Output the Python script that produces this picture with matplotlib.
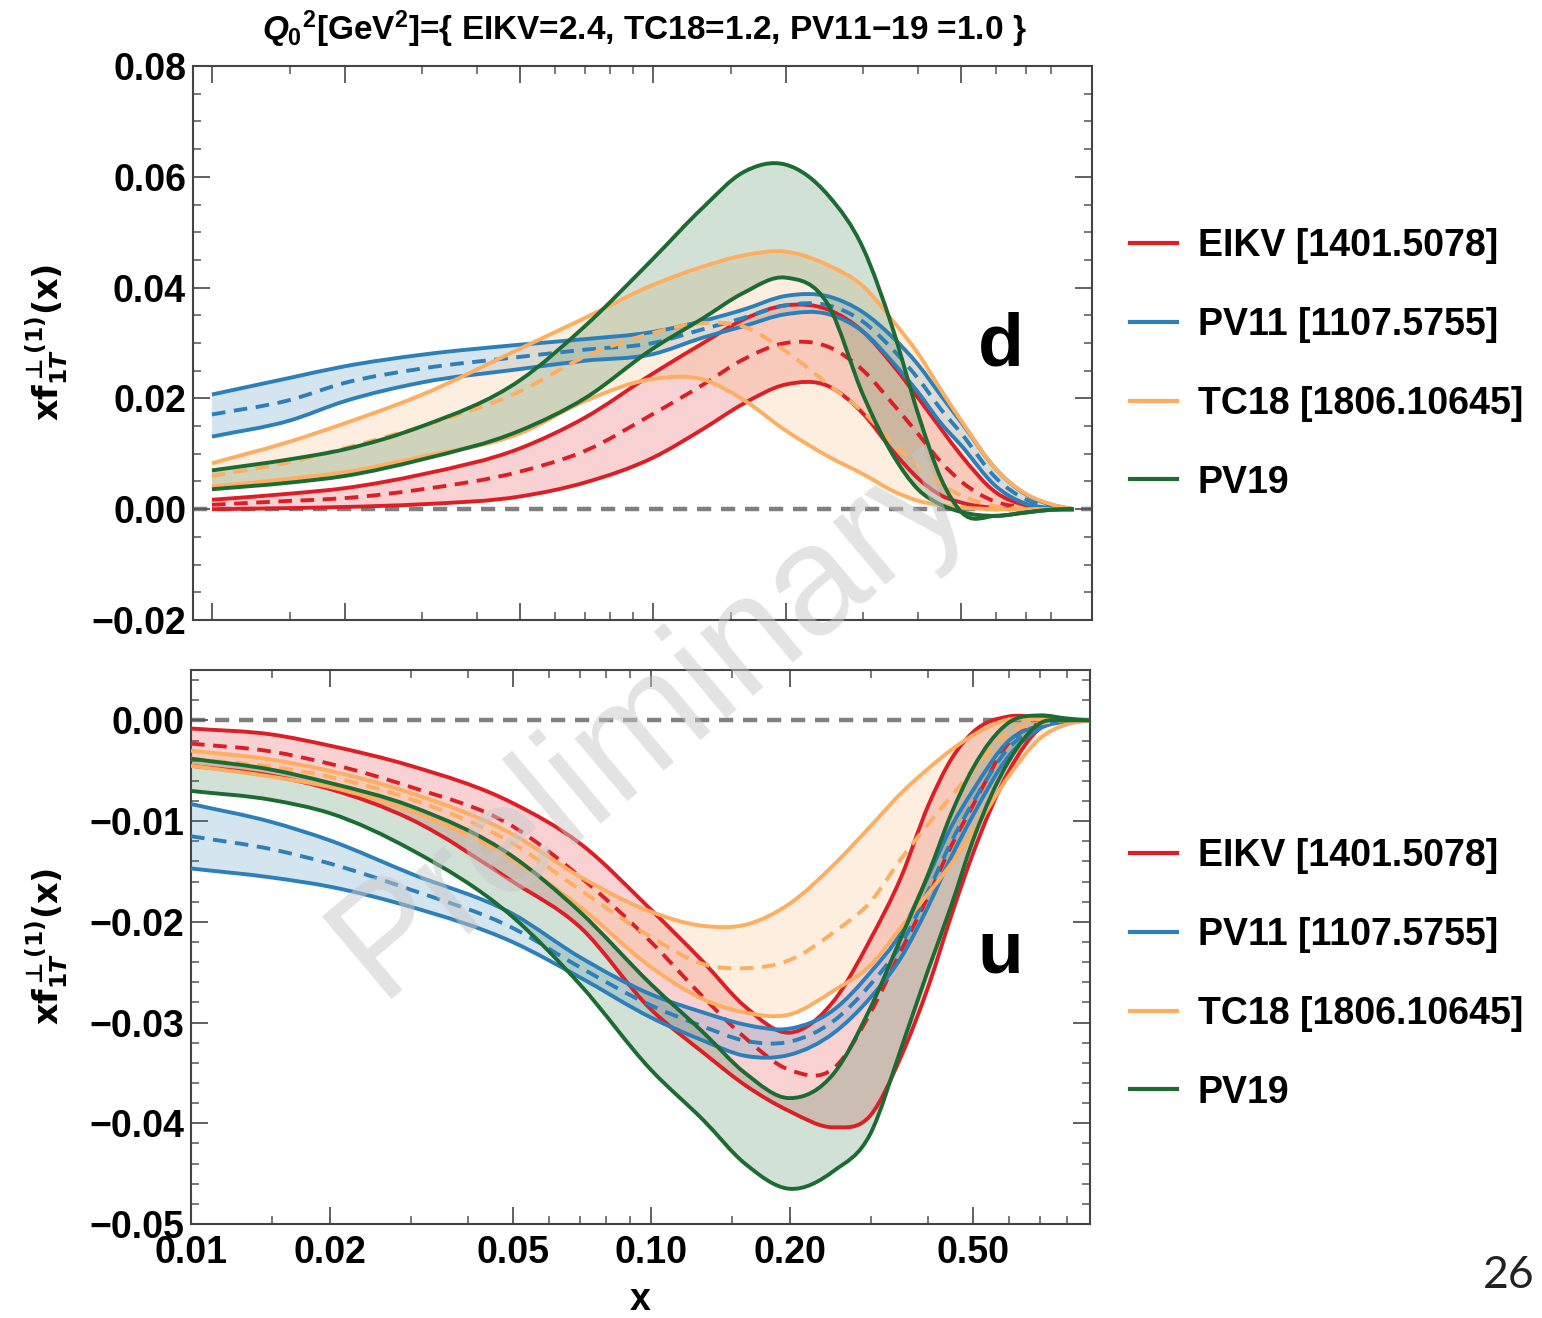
import numpy as np
import matplotlib
matplotlib.use('Agg')
import matplotlib.pyplot as plt
from matplotlib.lines import Line2D
from matplotlib.path import Path
from matplotlib.patches import PathPatch
from matplotlib.ticker import FixedLocator, FuncFormatter

plt.rcParams['font.family'] = ['Liberation Sans', 'DejaVu Sans']
plt.rcParams['font.weight'] = 'bold'
plt.rcParams['mathtext.fontset'] = 'custom'
plt.rcParams['mathtext.rm'] = 'Liberation Sans:bold'
plt.rcParams['mathtext.it'] = 'Liberation Sans:italic:bold'
plt.rcParams['mathtext.bf'] = 'Liberation Sans:bold'

# x grid shared by all curves
x = [0.01, 0.015, 0.02, 0.03, 0.05, 0.07, 0.1, 0.13, 0.16, 0.2,
     0.25, 0.3, 0.35, 0.4, 0.45, 0.5, 0.6, 0.7, 0.8, 0.9]

# ---- d quark (top panel) ----
eikv_d_hi = [0.0017, 0.0028, 0.0038, 0.0063, 0.0110, 0.0165, 0.0245, 0.0300, 0.0342, 0.0368,
             0.0360, 0.0320, 0.0260, 0.0200, 0.0145, 0.0097, 0.0030, 0.0007, 0.0001, 0.0]
eikv_d_mid = [0.0008, 0.0015, 0.0020, 0.0036, 0.0068, 0.0105, 0.0172, 0.0225, 0.0270, 0.0300,
              0.0293, 0.0250, 0.0190, 0.0135, 0.0085, 0.0050, 0.0013, 0.0003, 0.0, 0.0]
eikv_d_lo = [0.0, 0.0002, 0.0004, 0.0009, 0.0023, 0.0048, 0.0093, 0.0145, 0.0190, 0.0225,
             0.0222, 0.0172, 0.0105, 0.0055, 0.0025, 0.0012, 0.0002, 0.0, 0.0, 0.0]

pv11_d_hi = [0.0207, 0.0237, 0.0258, 0.0279, 0.0297, 0.0307, 0.0320, 0.0340, 0.0360, 0.0385,
             0.0384, 0.0355, 0.0310, 0.0260, 0.0205, 0.0157, 0.0072, 0.0027, 0.0008, 0.0]
pv11_d_mid = [0.0171, 0.0197, 0.0228, 0.0254, 0.0275, 0.0288, 0.0300, 0.0325, 0.0345, 0.0368,
              0.0368, 0.0338, 0.0288, 0.0235, 0.0180, 0.0137, 0.0056, 0.0018, 0.0005, 0.0]
pv11_d_lo = [0.0131, 0.0160, 0.0195, 0.0229, 0.0253, 0.0268, 0.0280, 0.0310, 0.0330, 0.0352,
             0.0352, 0.0320, 0.0265, 0.0210, 0.0155, 0.0115, 0.0041, 0.0010, 0.0002, 0.0]

tc18_d_a = [0.0083, 0.0122, 0.0155, 0.0207, 0.0290, 0.0345, 0.0405, 0.0438, 0.0458, 0.0465,
            0.0440, 0.0402, 0.0340, 0.0280, 0.0215, 0.0160, 0.0072, 0.0028, 0.0009, 0.0]
tc18_d_mid = [0.0060, 0.0085, 0.0110, 0.0150, 0.0213, 0.0275, 0.0318, 0.0336, 0.0330, 0.0285,
              0.0225, 0.0175, 0.0120, 0.0078, 0.0045, 0.0025, 0.0005, 0.0001, 0.0, 0.0]
tc18_d_b = [0.0041, 0.0055, 0.0067, 0.0095, 0.0137, 0.0195, 0.0235, 0.0234, 0.0198, 0.0142,
            0.0095, 0.0063, 0.0033, 0.0015, 0.0007, 0.0003, 0.0, 0.0, 0.0, 0.0]

pv19_d_hi = [0.0070, 0.0090, 0.0108, 0.0150, 0.0233, 0.0330, 0.0452, 0.0545, 0.0608, 0.0622,
             0.0566, 0.0470, 0.0325, 0.0170, 0.0055, -0.0005, -0.0012, -0.0006, -0.0001, 0.0]
pv19_d_lo = [0.0036, 0.0048, 0.0060, 0.0090, 0.0142, 0.0200, 0.0290, 0.0345, 0.0390, 0.0418,
             0.0368, 0.0205, 0.0098, 0.0035, 0.0008, -0.0005, -0.0012, -0.0006, -0.0001, 0.0]

# ---- u quark (bottom panel) ----
eikv_u_hi = [-0.0008, -0.0014, -0.0025, -0.0045, -0.0082, -0.0122, -0.0188, -0.0240, -0.0284, -0.0310,
             -0.0278, -0.0217, -0.0155, -0.0085, -0.0038, -0.0012, 0.0004, 0.0003, 0.0001, 0.0]
eikv_u_mid = [-0.0023, -0.0031, -0.0043, -0.0066, -0.0105, -0.0155, -0.0220, -0.0275, -0.0315, -0.0347,
              -0.0345, -0.0290, -0.0228, -0.0175, -0.0124, -0.0085, -0.0022, -0.0003, 0.0, 0.0]
eikv_u_lo = [-0.0045, -0.0055, -0.0068, -0.0098, -0.0160, -0.0205, -0.0287, -0.0330, -0.0362, -0.0388,
             -0.0404, -0.0392, -0.0333, -0.0265, -0.0193, -0.0133, -0.0050, -0.0008, 0.0, 0.0]

pv11_u_hi = [-0.0083, -0.0101, -0.0119, -0.0152, -0.0192, -0.0235, -0.0272, -0.0290, -0.0302, -0.0306,
             -0.0287, -0.0250, -0.0210, -0.0155, -0.0105, -0.0070, -0.0020, -0.0005, -0.0001, 0.0]
pv11_u_mid = [-0.0115, -0.0128, -0.0142, -0.0168, -0.0206, -0.0245, -0.0283, -0.0304, -0.0318, -0.0319,
              -0.0298, -0.0262, -0.0222, -0.0170, -0.0120, -0.0082, -0.0027, -0.0006, -0.0001, 0.0]
pv11_u_lo = [-0.0147, -0.0156, -0.0165, -0.0185, -0.0220, -0.0255, -0.0295, -0.0318, -0.0333, -0.0332,
             -0.0310, -0.0275, -0.0235, -0.0185, -0.0135, -0.0095, -0.0035, -0.0008, -0.0001, 0.0]

tc18_u_a = [-0.0030, -0.0039, -0.0050, -0.0072, -0.0113, -0.0155, -0.0190, -0.0204, -0.0203, -0.0182,
            -0.0143, -0.0105, -0.0072, -0.0048, -0.0029, -0.0015, 0.0001, 0.0001, 0.0, 0.0]
tc18_u_mid = [-0.0038, -0.0046, -0.0056, -0.0078, -0.0122, -0.0168, -0.0215, -0.0242, -0.0246, -0.0238,
              -0.0210, -0.0180, -0.0137, -0.0103, -0.0075, -0.0050, -0.0012, -0.0003, 0.0, 0.0]
tc18_u_b = [-0.0045, -0.0056, -0.0066, -0.0090, -0.0138, -0.0185, -0.0245, -0.0277, -0.0290, -0.0292,
            -0.0268, -0.0243, -0.0205, -0.0172, -0.0142, -0.0112, -0.0055, -0.0018, -0.0004, 0.0]

pv19_u_hi = [-0.0038, -0.0049, -0.0062, -0.0085, -0.0135, -0.0190, -0.0262, -0.0310, -0.0350, -0.0375,
             -0.0350, -0.0285, -0.0215, -0.0153, -0.0092, -0.0048, -0.0002, 0.0005, 0.0002, 0.0]
pv19_u_lo = [-0.0070, -0.0079, -0.0092, -0.0128, -0.0195, -0.0262, -0.0347, -0.0397, -0.0440, -0.0465,
             -0.0447, -0.0410, -0.0325, -0.0248, -0.0183, -0.0120, -0.0040, -0.0003, 0.0, 0.0]

labels = ['EIKV [1401.5078]', 'PV11 [1107.5755]', 'TC18 [1806.10645]', 'PV19']
colors = ['#dc1f26', '#2c7fb8', '#fdae61', '#1b6b32']

d_sets = [(eikv_d_hi, eikv_d_mid, eikv_d_lo), (pv11_d_hi, pv11_d_mid, pv11_d_lo),
          (tc18_d_a, tc18_d_mid, tc18_d_b), (pv19_d_hi, None, pv19_d_lo)]
u_sets = [(eikv_u_hi, eikv_u_mid, eikv_u_lo), (pv11_u_hi, pv11_u_mid, pv11_u_lo),
          (tc18_u_a, tc18_u_mid, tc18_u_b), (pv19_u_hi, None, pv19_u_lo)]

fig = plt.figure(figsize=(15.42, 13.18), dpi=100)
ax_d = fig.add_axes([0.1252, 0.5296, 0.5830, 0.4203])
ax_u = fig.add_axes([0.1239, 0.0713, 0.5830, 0.4203])

lw = 2.8


def yfmt(v, pos):
    if abs(v) < 1e-9:
        return '0.00'
    return f'{v:.2f}'.replace('-', '\u2212')


def smooth(xs, ys):
    # cubic bezier segments through the read points (tangents taken in log-x)
    u = np.log10(xs)
    y = np.asarray(ys, dtype=float)
    m = np.gradient(y, u)
    verts = [(xs[0], y[0])]
    codes = [Path.MOVETO]
    for i in range(len(u) - 1):
        h = u[i + 1] - u[i]
        verts += [(10 ** (u[i] + h / 3), y[i] + m[i] * h / 3),
                  (10 ** (u[i + 1] - h / 3), y[i + 1] - m[i + 1] * h / 3),
                  (xs[i + 1], y[i + 1])]
        codes += [Path.CURVE4] * 3
    return verts, codes


def draw(ax, sets):
    ax.axhline(0, color='#808080', lw=3.2, dashes=(3.2, 2.2), zorder=1)
    for (hi, mid, lo), c in zip(sets, colors):
        vh, ch = smooth(x, hi)
        vl, cl = smooth(x, lo)
        verts = vh + vl[::-1] + [vh[0]]
        codes = ch + [Path.LINETO] + cl[1:] + [Path.CLOSEPOLY]
        ax.add_patch(PathPatch(Path(verts, codes), facecolor=c, alpha=0.2, lw=0, zorder=2))
    for (hi, mid, lo), c in zip(sets, colors):
        for ys, ls in ((hi, '-'), (lo, '-'), (mid, (0, (3.5, 2.2)))):
            if ys is None:
                continue
            v, cd = smooth(x, ys)
            ax.add_patch(PathPatch(Path(v, cd), fill=False, edgecolor=c, lw=lw,
                                   linestyle=ls, joinstyle='round', zorder=3))
    ax.set_xscale('log')
    ax.xaxis.set_major_locator(FixedLocator([0.01, 0.02, 0.05, 0.1, 0.2, 0.5]))
    ax.xaxis.set_minor_locator(FixedLocator([0.015, 0.03, 0.04, 0.06, 0.07, 0.08, 0.09, 0.15,
                                             0.3, 0.4, 0.6, 0.7, 0.8]))
    ax.xaxis.set_major_formatter(FuncFormatter(lambda v, p: f'{v:.2f}'))
    ax.xaxis.set_minor_formatter(FuncFormatter(lambda v, p: ''))
    ax.yaxis.set_major_formatter(FuncFormatter(yfmt))
    ax.tick_params(which='both', direction='in', top=True, right=True, labelsize=27,
                   color='#555555')
    ax.tick_params(which='major', length=12, width=1.3)
    ax.tick_params(which='minor', length=6, width=1.1)
    ax.tick_params(axis='y', pad=5)
    ax.tick_params(axis='x', pad=8)
    for s in ax.spines.values():
        s.set_color('#444444')
        s.set_linewidth(1.5)
    for t in ax.get_xticklabels() + ax.get_yticklabels():
        t.set_fontweight('bold')


draw(ax_d, d_sets)
ax_d.set_xlim(0.00906, 0.99)
ax_d.set_ylim(-0.02, 0.08)
ax_d.yaxis.set_major_locator(FixedLocator([-0.02, 0.0, 0.02, 0.04, 0.06, 0.08]))
ax_d.yaxis.set_minor_locator(FixedLocator(np.arange(-0.02, 0.0801, 0.005)))
ax_d.tick_params(axis='x', labelbottom=False)
ax_d.text(0.898, 0.495, 'd', transform=ax_d.transAxes, ha='center', va='center',
          fontsize=54, fontweight='bold')

draw(ax_u, u_sets)
ax_u.set_xlim(0.01, 0.9)
ax_u.set_ylim(-0.05, 0.005)
ax_u.yaxis.set_major_locator(FixedLocator([-0.05, -0.04, -0.03, -0.02, -0.01, 0.0]))
ax_u.yaxis.set_minor_locator(FixedLocator(np.arange(-0.05, 0.0051, 0.002)))
ax_u.text(0.9, 0.49, 'u', transform=ax_u.transAxes, ha='center', va='center',
          fontsize=54, fontweight='bold')

# DejaVu math font for the label, \bot is the up tack sign it has
ylab = r'$\mathbf{xf}_{\mathbf{1}\mathit{T}}^{\bot(\mathbf{1})}\mathbf{(x)}$'
fig.text(0.03, 0.740, ylab, rotation=90, ha='center', va='center', fontsize=24,
         math_fontfamily='dejavusans')
fig.text(0.03, 0.282, ylab, rotation=90, ha='center', va='center', fontsize=24,
         math_fontfamily='dejavusans')
fig.text(0.415, 0.014, 'x', ha='center', va='center', fontsize=27, fontweight='bold')

fig.text(0.418, 0.978, r'$Q_0$$^2$[GeV$^2$]={ EIKV=2.4, TC18=1.2, PV11$-$19 =1.0 }',
         ha='center', va='center', fontsize=24, fontweight='bold')

handles = [Line2D([0], [0], color=c, lw=3) for c in colors]
for ycen in (0.7235, 0.2607):
    fig.legend(handles, labels, loc='center left', bbox_to_anchor=(0.733, ycen),
               frameon=False, prop={'size': 27, 'weight': 'bold'}, handlelength=1.25,
               handletextpad=0.55, labelspacing=1.14, borderpad=0, borderaxespad=0)

fig.text(0.4215, 0.455, 'Preliminary', rotation=40, ha='center', va='center',
         fontsize=112, fontweight='normal', color='#c8c8c8', alpha=0.5, zorder=10)

fig.text(0.995, 0.032, '26', ha='right', va='center', fontsize=32, fontweight='normal',
         family='Lato', color='#222222')

fig.savefig('out.png', dpi=100)
